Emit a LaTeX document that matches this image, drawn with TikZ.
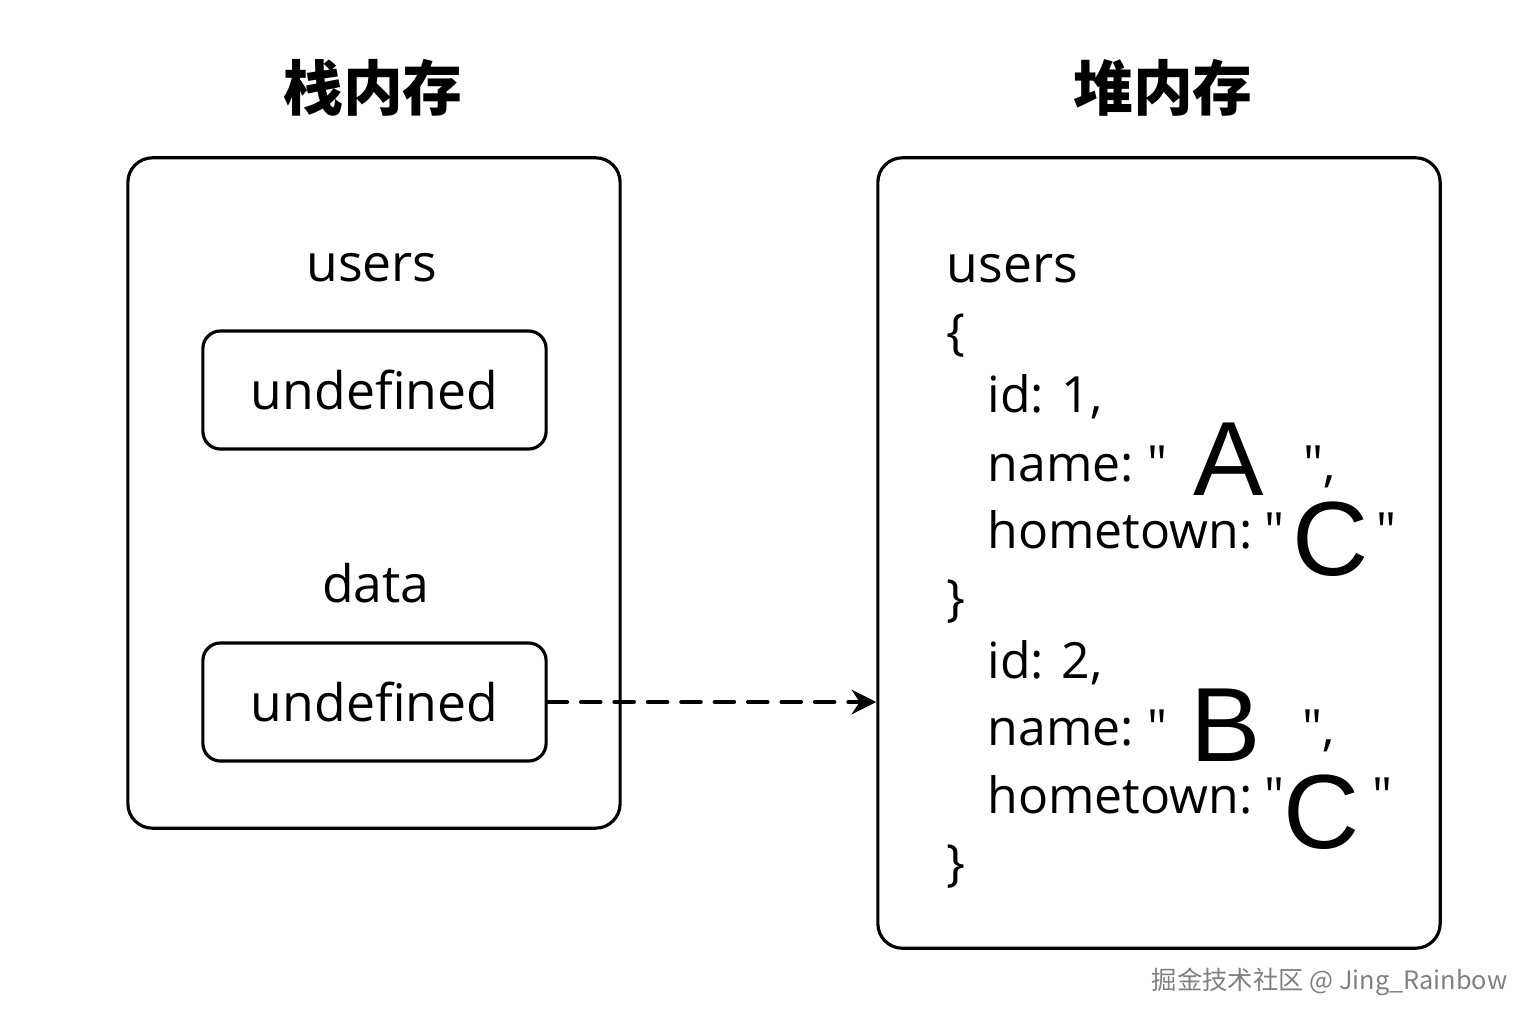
\documentclass[tikz,border=0pt]{standalone}
\usepackage{fontspec}
\setmainfont{Open Sans}
\newfontfamily\cjk{Noto Sans CJK SC}
\newfontfamily\bigsans{Liberation Sans}
\usetikzlibrary{arrows.meta}

\begin{document}
\begin{tikzpicture}[x=0.01cm, y=-0.01cm,
  every node/.style={font=\fontsize{14.7}{17}\selectfont, inner sep=0pt},
  frame/.style={draw, line width=0.9pt, rounded corners=7pt},
  cell/.style={draw, line width=0.9pt, rounded corners=5pt, minimum width=3.43cm, minimum height=1.18cm},
  code/.style={anchor=base west, font=\fontsize{14.2}{17}\selectfont},
  big/.style={anchor=base west, font=\bigsans\fontsize{30}{34}\selectfont}]
\useasboundingbox (0,0) rectangle (1536,1024);
\node[font=\cjk\bfseries\fontsize{17}{20}\selectfont] (stacktitle) at (373,88) {栈内存};
\node[font=\cjk\bfseries\fontsize{17}{20}\selectfont] (heaptitle) at (1163,88) {堆内存};
\node[frame, minimum width=4.92cm, minimum height=6.70cm] (stack) at (374,493) {};
\node[frame, minimum width=5.62cm, minimum height=7.90cm] (heap) at (1159,553) {};
% stack side
\node (users) at (372,268) {users};
\node[cell] (usersval) at (374.5,390) {undefined};
\node (data) at (376,583) {data};
\node[cell] (dataval) at (374.5,702) {undefined};
\draw[line width=1.2pt, dash pattern=on 5.5pt off 4pt, line cap=round, -{Stealth[length=7pt, width=7pt]}] (dataval.east) -- (dataval -| heap.west);
% heap side
\node[code, font=\fontsize{14.7}{17}\selectfont] (husers) at (946,282) {users};
\node[code] (open1) at (946,349) {\{};
\node[code] (id1) at (987,412) {id: 1,};
\node[code] (name1) at (987,481) {name:\hspace{4pt}\textquotedbl};
\node[big] (letterA) at (1193,495) {A};
\node[code] (nameend1) at (1303,481) {\textquotedbl,};
\node[code] (town1) at (987,548) {hometown:\hspace{3.5pt}\textquotedbl};
\node[big] (letterC1) at (1292,575) {C};
\node[code] (townend1) at (1376,548) {\textquotedbl};
\node[code] (close1) at (946,615) {\}};
\node[code] (id2) at (987,678) {id: 2,};
\node[code] (name2) at (987,745) {name:\hspace{4pt}\textquotedbl};
\node[big] (letterB) at (1190,761) {B};
\node[code] (nameend2) at (1302,745) {\textquotedbl,};
\node[code] (town2) at (987,813) {hometown:\hspace{3.5pt}\textquotedbl};
\node[big] (letterC2) at (1283,848) {C};
\node[code] (townend2) at (1372,813) {\textquotedbl};
\node[code] (close2) at (946,880) {\}};
\node[font=\cjk\fontsize{7.2}{8}\selectfont, text=gray, anchor=east] (mark) at (1508,982) {掘金技术社区 @ Jing\_Rainbow};
\end{tikzpicture}
\end{document}
